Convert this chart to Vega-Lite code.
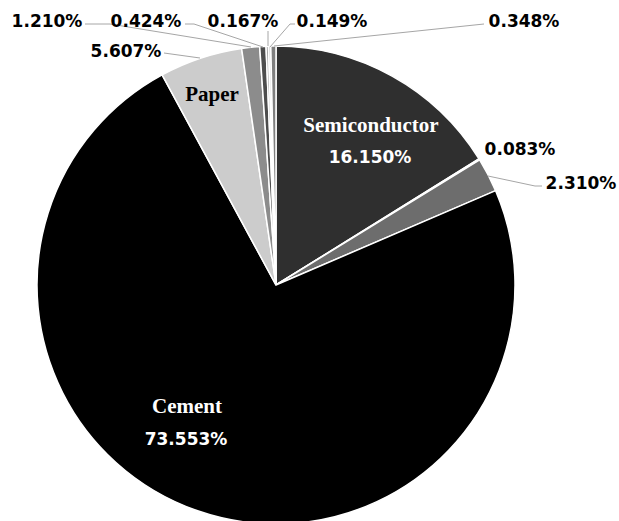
{
  "$schema": "https://vega.github.io/schema/vega-lite/v6.json",
  "width": 619,
  "height": 521,
  "autosize": "none",
  "padding": 0,
  "background": "white",
  "config": {"view": {"stroke": null}},
  "datasets": {
    "slices": [
      {"label": "Semiconductor", "share": 16.150, "order": 1},
      {"label": "0.083%", "share": 0.083, "order": 2},
      {"label": "2.310%", "share": 2.310, "order": 3},
      {"label": "Cement", "share": 73.553, "order": 4},
      {"label": "Paper", "share": 5.607, "order": 5},
      {"label": "1.210%", "share": 1.210, "order": 6},
      {"label": "0.424%", "share": 0.424, "order": 7},
      {"label": "0.167%", "share": 0.167, "order": 8},
      {"label": "0.149%", "share": 0.149, "order": 9},
      {"label": "0.348%", "share": 0.348, "order": 10}
    ],
    "texts": [
      {"text": "Semiconductor", "x": 95, "y": 159, "kind": "name_white"},
      {"text": "Cement", "x": -89, "y": -122, "kind": "name_white"},
      {"text": "Paper", "x": -64, "y": 190, "kind": "name_black"},
      {"text": "16.150%", "x": 94, "y": 127, "kind": "pct_white"},
      {"text": "73.553%", "x": -90, "y": -155, "kind": "pct_white"},
      {"text": "1.210%", "x": -229, "y": 263, "kind": "pct_black"},
      {"text": "0.424%", "x": -130, "y": 263, "kind": "pct_black"},
      {"text": "0.167%", "x": -33, "y": 263, "kind": "pct_black"},
      {"text": "0.149%", "x": 56, "y": 263, "kind": "pct_black"},
      {"text": "0.348%", "x": 248, "y": 263, "kind": "pct_black"},
      {"text": "5.607%", "x": -150, "y": 233, "kind": "pct_black"},
      {"text": "0.083%", "x": 244, "y": 135, "kind": "pct_black"},
      {"text": "2.310%", "x": 305, "y": 101, "kind": "pct_black"}
    ],
    "leaders": [
      {"id": "1.210%", "i": 0, "x": -191, "y": 261},
      {"id": "1.210%", "i": 1, "x": -166, "y": 261},
      {"id": "1.210%", "i": 2, "x": -25, "y": 238},
      {"id": "0.424%", "i": 0, "x": -91, "y": 261},
      {"id": "0.424%", "i": 1, "x": -82, "y": 261},
      {"id": "0.424%", "i": 2, "x": -13, "y": 238},
      {"id": "0.167%", "i": 0, "x": -8, "y": 254},
      {"id": "0.167%", "i": 1, "x": -8, "y": 239},
      {"id": "0.149%", "i": 0, "x": 19, "y": 261},
      {"id": "0.149%", "i": 1, "x": 14, "y": 261},
      {"id": "0.149%", "i": 2, "x": -6, "y": 238},
      {"id": "0.348%", "i": 0, "x": 208, "y": 261},
      {"id": "0.348%", "i": 1, "x": -2, "y": 239},
      {"id": "5.607%", "i": 0, "x": -112, "y": 232},
      {"id": "5.607%", "i": 1, "x": -76, "y": 227},
      {"id": "2.310%", "i": 0, "x": 266, "y": 99},
      {"id": "2.310%", "i": 1, "x": 259, "y": 99},
      {"id": "2.310%", "i": 2, "x": 212, "y": 109}
    ]
  },
  "layer": [
    {
      "data": {"name": "slices"},
      "mark": {"type": "arc", "outerRadius": 239, "stroke": "white", "strokeWidth": 1.5},
      "encoding": {
        "x": {"datum": 0, "type": "quantitative", "scale": {"domain": [-276, 343], "nice": false, "zero": false}, "axis": null},
        "y": {"datum": 0, "type": "quantitative", "scale": {"domain": [-236, 285], "nice": false, "zero": false}, "axis": null},
        "theta": {"field": "share", "type": "quantitative", "stack": true},
        "order": {"field": "order", "type": "quantitative"},
        "color": {
          "field": "label", "type": "nominal", "legend": null,
          "scale": {
            "domain": ["Semiconductor", "0.083%", "2.310%", "Cement", "Paper", "1.210%", "0.424%", "0.167%", "0.149%", "0.348%"],
            "range": ["#2f2f2f", "#d9d9d9", "#6d6d6d", "#000000", "#cccccc", "#8c8c8c", "#4d4d4d", "#a5a5a5", "#d0d0d0", "#7f7f7f"]
          }
        }
      }
    },
    {
      "data": {"name": "leaders"},
      "mark": {"type": "line", "stroke": "#a6a6a6", "strokeWidth": 1},
      "encoding": {
        "x": {"field": "x", "type": "quantitative", "scale": {"domain": [-276, 343], "nice": false, "zero": false}, "axis": null},
        "y": {"field": "y", "type": "quantitative", "scale": {"domain": [-236, 285], "nice": false, "zero": false}, "axis": null},
        "detail": {"field": "id", "type": "nominal"},
        "order": {"field": "i", "type": "quantitative"}
      }
    },
    {
      "data": {"name": "texts"},
      "transform": [{"filter": "datum.kind === 'name_white'"}],
      "mark": {"type": "text", "font": "Liberation Serif", "fontWeight": "bold", "fontSize": 21, "fill": "white", "align": "center", "baseline": "middle"},
      "encoding": {
        "x": {"field": "x", "type": "quantitative", "scale": {"domain": [-276, 343], "nice": false, "zero": false}, "axis": null},
        "y": {"field": "y", "type": "quantitative", "scale": {"domain": [-236, 285], "nice": false, "zero": false}, "axis": null},
        "text": {"field": "text"}
      }
    },
    {
      "data": {"name": "texts"},
      "transform": [{"filter": "datum.kind === 'name_black'"}],
      "mark": {"type": "text", "font": "Liberation Serif", "fontWeight": "bold", "fontSize": 21, "fill": "black", "align": "center", "baseline": "middle"},
      "encoding": {
        "x": {"field": "x", "type": "quantitative", "scale": {"domain": [-276, 343], "nice": false, "zero": false}, "axis": null},
        "y": {"field": "y", "type": "quantitative", "scale": {"domain": [-236, 285], "nice": false, "zero": false}, "axis": null},
        "text": {"field": "text"}
      }
    },
    {
      "data": {"name": "texts"},
      "transform": [{"filter": "datum.kind === 'pct_white'"}],
      "mark": {"type": "text", "font": "DejaVu Sans", "fontWeight": "bold", "fontSize": 17, "fill": "white", "align": "center", "baseline": "middle"},
      "encoding": {
        "x": {"field": "x", "type": "quantitative", "scale": {"domain": [-276, 343], "nice": false, "zero": false}, "axis": null},
        "y": {"field": "y", "type": "quantitative", "scale": {"domain": [-236, 285], "nice": false, "zero": false}, "axis": null},
        "text": {"field": "text"}
      }
    },
    {
      "data": {"name": "texts"},
      "transform": [{"filter": "datum.kind === 'pct_black'"}],
      "mark": {"type": "text", "font": "DejaVu Sans", "fontWeight": "bold", "fontSize": 17, "fill": "black", "align": "center", "baseline": "middle"},
      "encoding": {
        "x": {"field": "x", "type": "quantitative", "scale": {"domain": [-276, 343], "nice": false, "zero": false}, "axis": null},
        "y": {"field": "y", "type": "quantitative", "scale": {"domain": [-236, 285], "nice": false, "zero": false}, "axis": null},
        "text": {"field": "text"}
      }
    }
  ]
}
